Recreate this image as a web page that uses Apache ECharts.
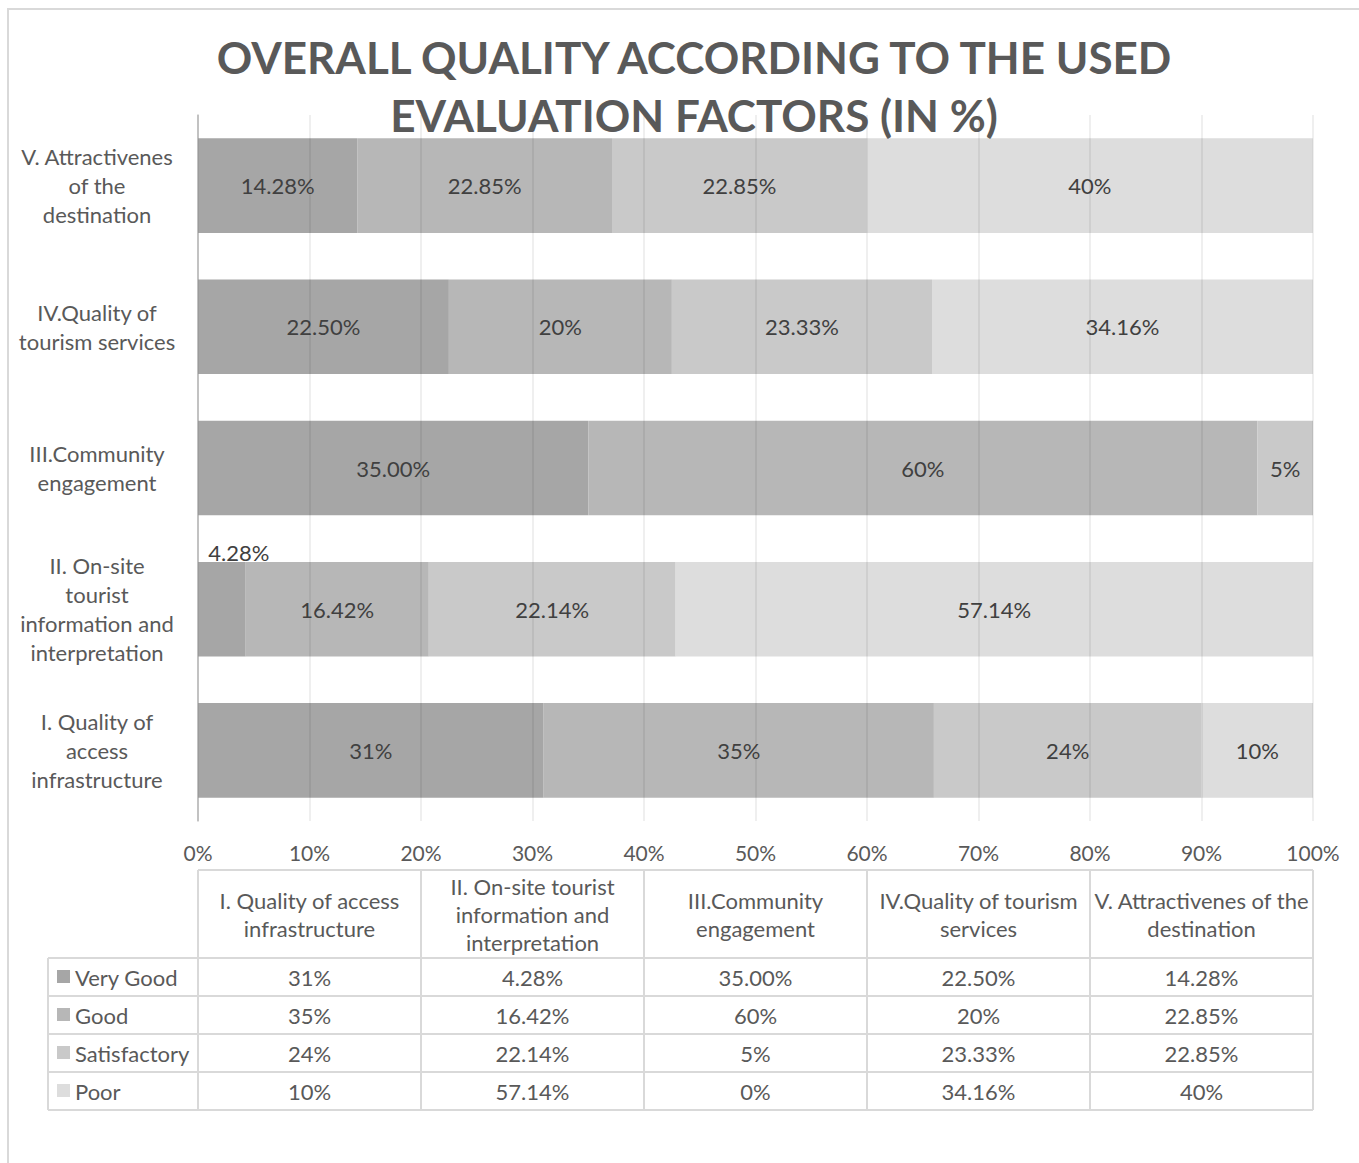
<!DOCTYPE html>
<html>
<head>
<meta charset="utf-8">
<script src="https://cdn.jsdelivr.net/npm/echarts@6/dist/echarts.min.js"></script>
<style>
html,body{margin:0;padding:0;background:#fff;}
#chart{width:1359px;height:1163px;}
</style>
</head>
<body>
<div id="chart"></div>
<script>
// ---- data ----
var categories = [
  'I. Quality of access infrastructure',
  'II. On-site tourist information and interpretation',
  'III.Community engagement',
  'IV.Quality of tourism services',
  'V. Attractivenes of the destination'
];
var axisLabelText = [
  'I. Quality of\naccess\ninfrastructure',
  'II. On-site\ntourist\ninformation and\ninterpretation',
  'III.Community\nengagement',
  'IV.Quality of\ntourism services',
  'V. Attractivenes\nof the\ndestination'
];
var tableHeaderText = [
  'I. Quality of access\ninfrastructure',
  'II. On-site tourist\ninformation and\ninterpretation',
  'III.Community\nengagement',
  'IV.Quality of tourism\nservices',
  'V. Attractivenes of the\ndestination'
];
var seriesNames = ['Very Good', 'Good', 'Satisfactory', 'Poor'];
var veryGood = [31, 4.28, 35.00, 22.50, 14.28];
var good = [35, 16.42, 60, 20, 22.85];
var satisfactory = [24, 22.14, 5, 23.33, 22.85];
var poor = [10, 57.14, 0, 34.16, 40];
var veryGoodText = ['31%', '4.28%', '35.00%', '22.50%', '14.28%'];
var goodText = ['35%', '16.42%', '60%', '20%', '22.85%'];
var satisfactoryText = ['24%', '22.14%', '5%', '23.33%', '22.85%'];
var poorText = ['10%', '57.14%', '0%', '34.16%', '40%'];
var xTicks = [0, 10, 20, 30, 40, 50, 60, 70, 80, 90, 100];

var allValues = [veryGood, good, satisfactory, poor];
var allTexts = [veryGoodText, goodText, satisfactoryText, poorText];
var colors = ['#a6a6a6', '#b7b7b7', '#c9c9c9', '#dddddd'];
var FONT = 'Lato';
var TXT = '#595959';
var FS = 22;

var chart = echarts.init(document.getElementById('chart'), null, {renderer: 'svg'});

var series = seriesNames.map(function (name, si) {
  return {
    name: name,
    type: 'bar',
    stack: 'total',
    barCategoryGap: '33%',
    itemStyle: {color: colors[si]},
    label: {
      show: true,
      position: 'inside',
      fontFamily: FONT,
      fontSize: FS,
      color: '#404040',
      formatter: function (p) {
        return allValues[si][p.dataIndex] === 0 ? '' : allTexts[si][p.dataIndex];
      }
    },
    data: allValues[si].map(function (v, i) {
      var item = {value: v};
      if (si === 0 && v < 8) {
        item.label = {position: 'top', offset: [17, 2], distance: 0};
      }
      return item;
    })
  };
});

var option = {
  backgroundColor: '#ffffff',
  animation: false,
  title: {
    text: 'OVERALL QUALITY ACCORDING TO THE USED\nEVALUATION FACTORS (IN %)',
    left: 689,
    textAlign: 'center',
    top: 23,
    textStyle: {
      fontFamily: FONT, fontWeight: 'bold', fontSize: 44, color: TXT, lineHeight: 58
    }
  },
  grid: {left: 198, right: 46, top: 115, bottom: 342, containLabel: false},
  xAxis: {
    type: 'value', min: 0, max: 100, interval: 10, z: 3,
    axisLine: {show: false}, axisTick: {show: false},
    splitLine: {show: true, lineStyle: {color: 'rgba(0,0,0,0.085)', width: 1.5}},
    axisLabel: {
      formatter: function (v) { return xTicks.indexOf(v) >= 0 ? v + '%' : ''; },
      fontFamily: FONT, fontSize: 21, color: TXT, margin: 21
    }
  },
  yAxis: {
    type: 'category', data: categories,
    axisLine: {show: true, lineStyle: {color: '#bfbfbf', width: 1.5}},
    axisTick: {show: false},
    axisLabel: {
      formatter: function (v, i) { return axisLabelText[i]; },
      fontFamily: FONT, fontSize: FS, color: TXT, lineHeight: 29,
      align: 'center', margin: 101
    }
  },
  series: series
};
chart.setOption(option);

// ---- data table drawn beneath the plot ----
var colX = xTicks.filter(function (t) { return t % 20 === 0; }).map(function (t) {
  return chart.convertToPixel({xAxisIndex: 0}, t);
});
var headTop = 870, headBottom = 958, rowH = 38, legLeft = 48;
var tableBottom = headBottom + rowH * seriesNames.length;
var border = '#d9d9d9';
var g = [];
// outer frame of chart area
g.push({type: 'rect', shape: {x: 8, y: 9, width: 1400, height: 1200},
  style: {fill: 'none', stroke: '#d9d9d9', lineWidth: 2}, silent: true});
// horizontal lines
g.push({type: 'line', shape: {x1: colX[0], y1: headTop, x2: colX[5], y2: headTop}, style: {stroke: border, lineWidth: 2}});
for (var r = 0; r <= seriesNames.length; r++) {
  var yy = headBottom + r * rowH;
  g.push({type: 'line', shape: {x1: legLeft, y1: yy, x2: colX[5], y2: yy}, style: {stroke: border, lineWidth: 2}});
}
// vertical lines
g.push({type: 'line', shape: {x1: legLeft, y1: headBottom, x2: legLeft, y2: tableBottom}, style: {stroke: border, lineWidth: 2}});
for (var c = 0; c < colX.length; c++) {
  g.push({type: 'line', shape: {x1: colX[c], y1: headTop, x2: colX[c], y2: tableBottom}, style: {stroke: border, lineWidth: 2}});
}
// header texts
for (var c2 = 0; c2 < categories.length; c2++) {
  g.push({type: 'text', x: (colX[c2] + colX[c2 + 1]) / 2, y: (headTop + headBottom) / 2,
    style: {text: tableHeaderText[c2], fontFamily: FONT, fontSize: FS, fill: TXT,
      align: 'center', verticalAlign: 'middle', lineHeight: 28}});
}
// rows
for (var s = 0; s < seriesNames.length; s++) {
  var cy = headBottom + s * rowH + rowH / 2;
  g.push({type: 'rect', shape: {x: legLeft + 9, y: cy - 7, width: 13, height: 13}, style: {fill: colors[s]}});
  g.push({type: 'text', x: legLeft + 27, y: cy,
    style: {text: seriesNames[s], fontFamily: FONT, fontSize: FS, fill: TXT, align: 'left', verticalAlign: 'middle'}});
  for (var c3 = 0; c3 < categories.length; c3++) {
    g.push({type: 'text', x: (colX[c3] + colX[c3 + 1]) / 2, y: cy,
      style: {text: allTexts[s][c3], fontFamily: FONT, fontSize: FS, fill: TXT, align: 'center', verticalAlign: 'middle'}});
  }
}
chart.setOption({graphic: {elements: g}});
</script>
</body>
</html>
